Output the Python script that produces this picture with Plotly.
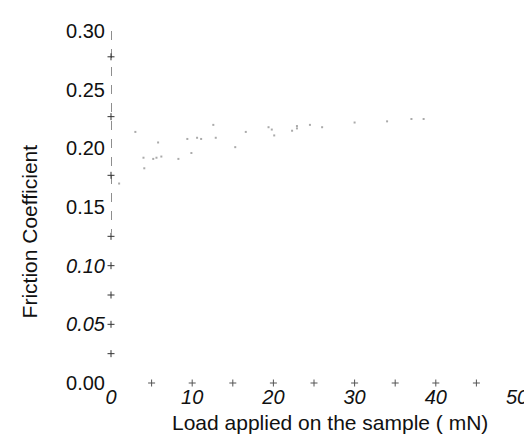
import plotly.graph_objects as go

# Friction data along the scratch (load in mN, friction coefficient)
load = [1.0, 3.0, 4.0, 4.1, 5.2, 5.6, 5.8, 6.2, 8.3, 9.4, 9.9, 10.6, 11.1,
        12.6, 12.9, 15.3, 16.6, 19.4, 19.8, 20.1, 22.3, 22.9, 22.9, 24.5,
        26.0, 30.0, 34.0, 37.0, 38.5]
friction = [0.170, 0.214, 0.192, 0.183, 0.191, 0.192, 0.205, 0.193, 0.191,
            0.208, 0.196, 0.209, 0.208, 0.220, 0.209, 0.201, 0.214, 0.218,
            0.216, 0.211, 0.215, 0.219, 0.217, 0.220, 0.218, 0.222, 0.223,
            0.225, 0.225]

# Start-up readings at zero load
start_load = [0, 0, 0, 0, 0]
start_friction = [0.300, 0.278, 0.227, 0.177, 0.128]

# Small cross markers along the axes
y_axis_marks = [0.025, 0.05, 0.075, 0.10, 0.125, 0.177, 0.227, 0.278]
x_axis_marks = [5, 10, 15, 20, 25, 30, 35, 40, 45]

x_ticks = [0, 10, 20, 30, 40, 50]
y_ticks = [0.00, 0.05, 0.10, 0.15, 0.20, 0.25, 0.30]
y_italic = [0.05, 0.10]

fig = go.Figure()
fig.add_trace(go.Scatter(x=start_load, y=start_friction, mode="lines",
                         line=dict(color="#444", width=1.2, dash="dash"),
                         showlegend=False, cliponaxis=False))
fig.add_trace(go.Scatter(x=[0] * len(y_axis_marks), y=y_axis_marks, mode="markers",
                         marker=dict(symbol="cross-thin", size=5,
                                     line=dict(color="#333", width=1)),
                         showlegend=False, cliponaxis=False))
fig.add_trace(go.Scatter(x=x_axis_marks, y=[0] * len(x_axis_marks), mode="markers",
                         marker=dict(symbol="cross-thin", size=5,
                                     line=dict(color="#555", width=1)),
                         showlegend=False, cliponaxis=False))
fig.add_trace(go.Scatter(x=load, y=friction, mode="markers",
                         marker=dict(symbol="square", size=2, color="#aaa"),
                         showlegend=False, cliponaxis=False))

font_family = "Liberation Sans, Arial, sans-serif"
fig.update_layout(
    width=532, height=441,
    margin=dict(l=103, r=20, t=20, b=66),
    paper_bgcolor="white", plot_bgcolor="white",
    font=dict(family=font_family, size=20, color="#111"),
    xaxis=dict(range=[0, 50], tickvals=x_ticks, ticktext=[f"<i>{v}</i>" for v in x_ticks],
               showgrid=False, zeroline=False, showline=False, ticks="",
               tickfont=dict(size=20)),
    yaxis=dict(range=[0, 0.30], tickvals=y_ticks,
               ticktext=[(f"<i>{v:.2f}</i>" if v in y_italic else f"{v:.2f}") for v in y_ticks],
               showgrid=False, zeroline=False, showline=False, ticks="",
               ticklabelstandoff=5, tickfont=dict(size=20)),
    annotations=[
        dict(text="Load applied on the sample ( mN)", xref="paper", yref="paper",
             x=0.54, y=-0.113, xanchor="center", yanchor="middle",
             showarrow=False, font=dict(size=21)),
        dict(text="Friction Coefficient", xref="paper", yref="paper",
             x=-0.2, y=0.43, xanchor="center", yanchor="middle", textangle=-90,
             showarrow=False, font=dict(size=21)),
    ],
)

fig.write_html("out.html")
